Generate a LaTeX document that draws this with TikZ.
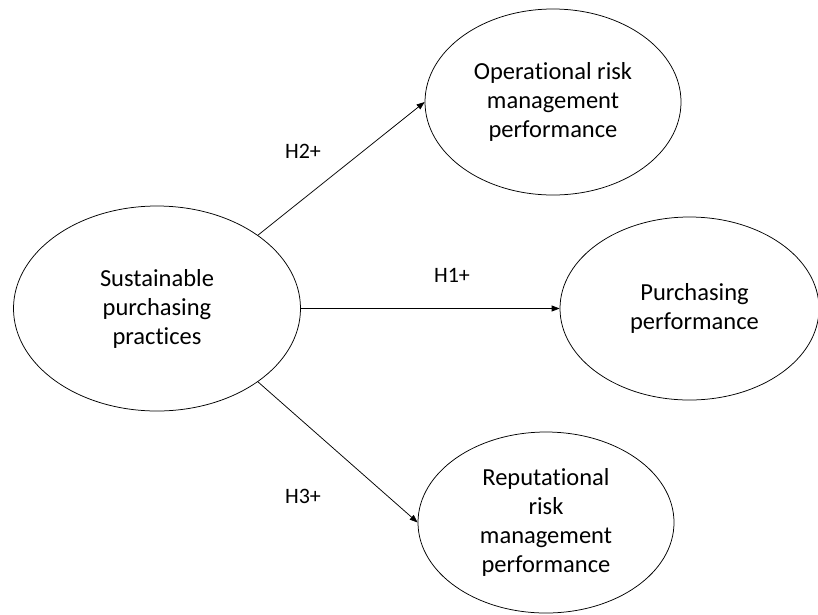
\documentclass[tikz,border=0pt]{standalone}
\usepackage{fontspec}
\setmainfont[Ligatures=NoCommon]{Carlito}
\usetikzlibrary{shapes.geometric,arrows.meta}
\begin{document}
\begin{tikzpicture}[x=1pt,y=-1pt,
  construct/.style={draw=black, line width=0.75pt, ellipse, inner sep=0pt,
    align=center, font=\fontsize{24.5}{29}\selectfont},
  path/.style={draw=black, line width=0.75pt, -{Triangle[length=8pt,width=6pt]}},
  hyp/.style={font=\fontsize{22}{26}\selectfont}]
  \useasboundingbox (0,0) rectangle (818,614);

  % constructs
  \node[construct, minimum width=287pt, minimum height=205pt] (spp) at (157,308.5)
    {Sustainable\\purchasing\\practices};
  \node[construct, minimum width=256pt, minimum height=186pt] (orm) at (553,102)
    {Operational risk\\management\\performance};
  \node[construct, minimum width=259pt, minimum height=183pt] (pp) at (689.5,308.5)
    {\hspace*{10pt}Purchasing\\\hspace*{10pt}performance};
  \node[construct, minimum width=256pt, minimum height=181pt] (rrm) at (546,522.5)
    {Reputational\\risk\\management\\performance};

  % hypothesised paths
  \draw[path] (spp.36.3) -- (orm.west);
  \draw[path] (spp.east) -- (pp.west);
  \draw[path] (spp.-36.3) -- (rrm.west);

  % path labels
  \node[hyp] (h1) at (452,275) {H1+};
  \node[hyp] (h2) at (303,151) {H2+};
  \node[hyp] (h3) at (303,496) {H3+};
\end{tikzpicture}
\end{document}
